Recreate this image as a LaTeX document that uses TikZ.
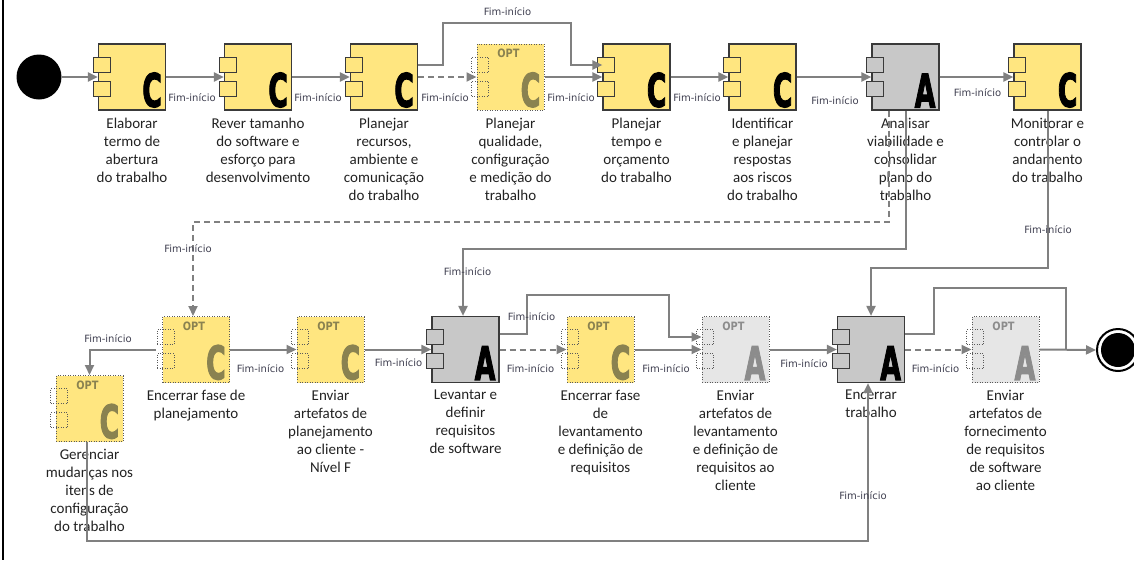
\documentclass[tikz,border=0pt]{standalone}
\usepackage{fontspec}
\usepackage{graphicx}
\usetikzlibrary{arrows.meta,calc}
\setmainfont{Carlito}
\newfontfamily\lblfont{DejaVu Sans}
\newfontfamily\bigfont{DejaVu Sans}[BoldFeatures={FakeBold=3}]
\newfontfamily\optfont{DejaVu Sans}
\definecolor{ylw}{HTML}{FFE680}
\definecolor{gry}{HTML}{C8C8C8}
\definecolor{lgry}{HTML}{E6E6E6}
\definecolor{bord}{HTML}{3A3A3A}
\definecolor{optbord}{HTML}{5A5A5A}
\definecolor{lnc}{HTML}{808080}
\definecolor{txtc}{HTML}{222222}
\definecolor{lblc}{HTML}{3F3F50}
\definecolor{olive}{HTML}{8A8250}
\definecolor{dgry}{HTML}{8C8C8C}
\newcommand{\bigletter}[1]{\scalebox{0.58}[1]{\bigfont\bfseries\fontsize{46}{46}\selectfont #1}}
\newcommand{\mkbox}[6]{%
  \node[#4box] (#1) at (#2,#3) {};
  \node[#4port] (#1p) at ([xshift=3.7pt,yshift=12.2pt]#1.west) {};
  \node[#4port] (#1q) at ([xshift=3.7pt,yshift=-11.5pt]#1.west) {};
  \node[#4let] (#1l) at ([xshift=-4pt,yshift=3pt]#1.south east) {\bigletter{#5}};
  \node[txt] (#1t) at ([yshift=-7pt]#1.south) {#6};
}
\newcommand{\mkoptbox}[6]{%
  \mkbox{#1}{#2}{#3}{#4}{#5}{#6}
  \node[#4opt] (#1o) at ([xshift=-2pt,yshift=-10pt]#1.north) {\scalebox{0.85}[1]{OPT}};
}
\begin{document}
\begin{tikzpicture}[x=1pt,y=-1pt,
  boxbase/.style={rectangle, minimum width=67pt, minimum height=66pt, inner sep=0pt},
  ybox/.style={boxbase, draw=bord, fill=ylw, line width=1.2pt},
  gbox/.style={boxbase, draw=bord, fill=gry, line width=1.2pt},
  yobox/.style={boxbase, draw=optbord, fill=ylw, line width=1pt, dash pattern=on 1pt off 1.5pt},
  gobox/.style={boxbase, draw=optbord, fill=lgry, line width=1pt, dash pattern=on 1pt off 1.5pt},
  portbase/.style={rectangle, minimum width=17pt, minimum height=15pt, inner sep=0pt, line width=1pt},
  yport/.style={portbase, draw=bord, fill=ylw},
  gport/.style={portbase, draw=bord, fill=gry},
  yoport/.style={portbase, draw=optbord, dash pattern=on 1pt off 1.5pt},
  goport/.style={portbase, draw=optbord, dash pattern=on 1pt off 1.5pt},
  letbase/.style={anchor=south east, inner sep=0pt},
  ylet/.style={letbase, text=black},
  glet/.style={letbase, text=black},
  yolet/.style={letbase, text=olive},
  golet/.style={letbase, text=dgry},
  optbase/.style={inner sep=0pt, font=\optfont\bfseries\fontsize{11.5}{11.5}\selectfont},
  yoopt/.style={optbase, text=olive},
  goopt/.style={optbase, text=dgry},
  txt/.style={anchor=north, align=center, inner sep=0pt, text=txtc,
    font=\fontsize{15}{18}\selectfont, execute at begin node={\rule{0pt}{12pt}}},
  lbl/.style={inner sep=0pt, text=lblc, font=\lblfont\fontsize{10}{11}\selectfont},
  conn/.style={draw=lnc, line width=2pt, -{Triangle[length=10pt,width=9pt]}},
  nconn/.style={draw=lnc, line width=2pt},
  dconn/.style={conn, dash pattern=on 6pt off 4pt}
]
\useasboundingbox (0,0) rectangle (1134,560);
\draw[line width=2pt] (3,0) -- (3,560);

% start and end
\node[circle, fill=black, minimum size=45pt, inner sep=0pt] (start) at (39,77) {};
\node[circle, draw=black, line width=2pt, fill=white, minimum size=42pt, inner sep=0pt] (end) at (1118,350) {};
\node[circle, fill=black, minimum size=34pt, inner sep=0pt] (endin) at (1118,350) {};

% top row
\mkbox{b1}{132}{77}{y}{C}{Elaborar\\termo de\\abertura\\do trabalho}
\mkbox{b2}{258}{77}{y}{C}{Rever tamanho\\do software e\\esforço para\\desenvolvimento}
\mkbox{b3}{384}{77}{y}{C}{Planejar\\recursos,\\ambiente e\\comunicação\\do trabalho}
\mkoptbox{b4}{510.5}{77}{yo}{C}{Planejar\\qualidade,\\configuração\\e medição do\\trabalho}
\mkbox{b5}{636.5}{77}{y}{C}{Planejar\\tempo e\\orçamento\\do trabalho}
\mkbox{b6}{762.5}{77}{y}{C}{Identificar\\e planejar\\respostas\\aos riscos\\do trabalho}
\mkbox{b7}{905.5}{77}{g}{A}{Analisar\\viabilidade e\\consolidar\\plano do\\trabalho}
\mkbox{b8}{1047.5}{77}{y}{C}{Monitorar e\\controlar o\\andamento\\do trabalho}

% bottom row
\mkoptbox{b9}{89.5}{408.5}{yo}{C}{Gerenciar\\mudanças nos\\itens de\\configuração\\do trabalho}
\mkoptbox{b10}{196}{349.5}{yo}{C}{Encerrar fase de\\planejamento}
\mkoptbox{b11}{330.5}{349.5}{yo}{C}{Enviar\\artefatos de\\planejamento\\ao cliente -\\Nível F}
\mkbox{b12}{465.5}{349.5}{g}{A}{Levantar e\\definir\\requisitos\\de software}
\mkoptbox{b13}{600.5}{349.5}{yo}{C}{Encerrar fase\\de\\levantamento\\e definição de\\requisitos}
\mkoptbox{b14}{735.5}{349.5}{go}{A}{Enviar\\artefatos de\\levantamento\\e definição de\\requisitos ao\\cliente}
\mkbox{b15}{871}{349.5}{g}{A}{Encerrar\\trabalho}
\mkoptbox{b16}{1005.5}{349.5}{go}{A}{Enviar\\artefatos de\\fornecimento\\de requisitos\\de software\\ao cliente}

% connectors top row
\draw[conn] (start) -- (b1.west);
\draw[conn] (b1.east) -- (b2.west);
\draw[conn] (b2.east) -- (b3.west);
\draw[dconn] (b3.east) -- (b4.west);
\draw[conn] ([yshift=12pt]b3.east) -| (443,23) -| (571,65) -- ([yshift=12pt]b5.west);
\draw[conn] (b4.east) -- (b5.west);
\draw[conn] (b5.east) -- (b6.west);
\draw[conn] (b6.east) -- (b7.west);
\draw[conn] (b7.east) -- (b8.west);

% connectors between rows
\draw[conn] (b7.south) |- (463,249) -- ([xshift=-2.5pt]b12.north);
\draw[dconn] ([xshift=-17pt]b7.south) |- (193,222) -- ([xshift=-3pt]b10.north);
\draw[conn] (b8.south) |- (871,268) -- (b15.north);

% connectors bottom row
\draw[conn] ([xshift=-6pt]b10.west) -| (b9.north);
\draw[conn] ([xshift=-2.5pt]b9.south) |- (868,541) -- ([xshift=-3pt]b15.south);
\draw[conn] (b10.east) -- (b11.west);
\draw[conn] (b11.east) -- (b12.west);
\draw[dconn] (b12.east) -- (b13.west);
\draw[conn] ([yshift=15.5pt]b12.east) -| (527,295) -| (669,337) -- ([yshift=12.5pt]b14.west);
\draw[conn] (b13.east) -- (b14.west);
\draw[conn] (b14.east) -- (b15.west);
\draw[dconn] (b15.east) -- (b16.west);
\draw[nconn] ([yshift=15.5pt]b15.east) -| (934,288) -| (1066,350);
\draw[conn] (b16.east) -- (end.west);

% labels
\node[lbl] (l1) at (192,98) {Fim-início};
\node[lbl] (l2) at (318,98) {Fim-início};
\node[lbl] (l3) at (445,98) {Fim-início};
\node[lbl] (l4) at (507.5,12) {Fim-início};
\node[lbl] (l5) at (571,98) {Fim-início};
\node[lbl] (l6) at (697,98) {Fim-início};
\node[lbl] (l7) at (835,101) {Fim-início};
\node[lbl] (l8) at (977.5,93) {Fim-início};
\node[lbl] (l9) at (467.5,272) {Fim-início};
\node[lbl] (l10) at (188,249) {Fim-início};
\node[lbl] (l11) at (1048,230) {Fim-início};
\node[lbl] (l12) at (108,339) {Fim-início};
\node[lbl] (l13) at (863,496) {Fim-início};
\node[lbl] (l14) at (260.5,369) {Fim-início};
\node[lbl] (l15) at (398.5,363) {Fim-início};
\node[lbl] (l16) at (530.5,369) {Fim-início};
\node[lbl] (l17) at (531.5,317) {Fim-início};
\node[lbl] (l18) at (666,369) {Fim-início};
\node[lbl] (l19) at (804,364) {Fim-início};
\node[lbl] (l20) at (935.5,369) {Fim-início};
\end{tikzpicture}
\end{document}
